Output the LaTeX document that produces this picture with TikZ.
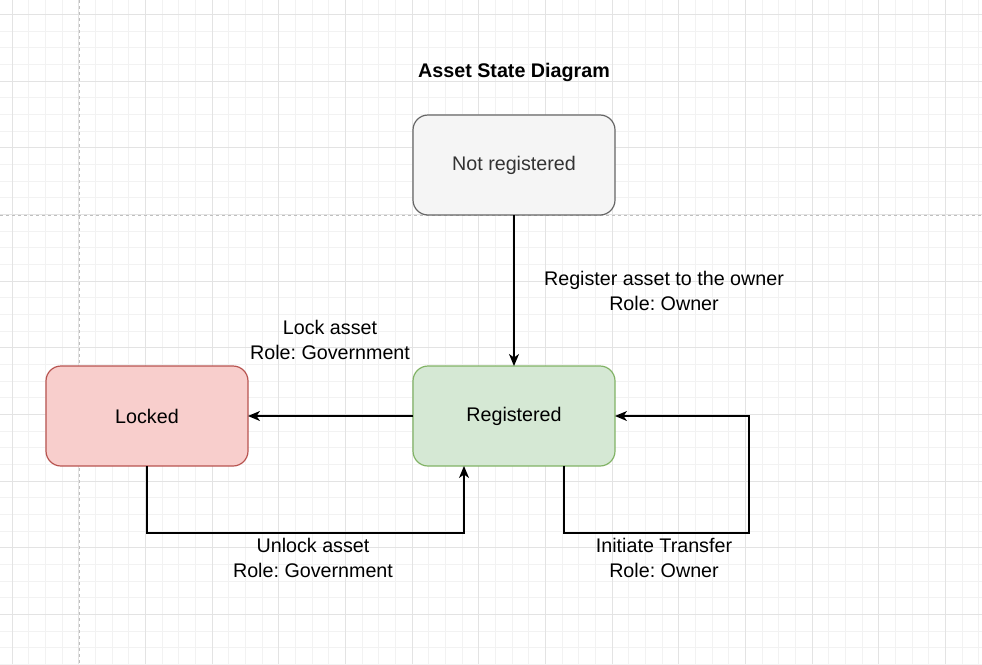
\documentclass[tikz,border=0pt]{standalone}
\usepackage{fontspec}
\setmainfont{Liberation Sans}
\usetikzlibrary{positioning}
\usetikzlibrary{arrows.meta}
\frenchspacing

\definecolor{greyfill}{HTML}{F5F5F5}
\definecolor{greyline}{HTML}{666666}
\definecolor{greytext}{HTML}{333333}
\definecolor{greenfill}{HTML}{D5E8D4}
\definecolor{greenline}{HTML}{82B366}
\definecolor{redfill}{HTML}{F8CECC}
\definecolor{redline}{HTML}{B85450}

\begin{document}
\begin{tikzpicture}[
        x = 1pt, y = -1pt,
        state/.style = {
            draw,
            rounded corners = 15pt,
            minimum width = 202pt,
            minimum height = 100pt,
            line width = 1.2pt,
            inner sep = 0pt,
            outer sep = 0pt,
            font = \fontsize{19.7}{25.5}\selectfont
        },
        lbl/.style = {
            align = center,
            font = \fontsize{19.7}{25.5}\selectfont
        },
        trans/.style = {
            line width = 1.3pt,
            -{Stealth[length=12pt, width=10pt, inset=3.5pt]}
        },
        minorline/.style = {line width = 0.6pt, black!5},
        majorline/.style = {line width = 0.8pt, black!11}
        ]
        \useasboundingbox (0,0) rectangle (982,664);
        \fill[white] (0,0) rectangle (982,664);
%
        \foreach \i in {-1,...,58}
            \draw[minorline] ({12+16.667*\i},0) -- ({12+16.667*\i},664);
        \foreach \i in {-1,...,39}
            \draw[minorline] (0,{14.3+16.667*\i}) -- (982,{14.3+16.667*\i});
        \foreach \i in {0,...,14}
            \draw[majorline] ({12+66.667*\i},0) -- ({12+66.667*\i},664);
        \foreach \i in {0,...,9}
            \draw[majorline] (0,{14.3+66.667*\i}) -- (982,{14.3+66.667*\i});
        \draw[line width = 0.9pt, black!25, dashed] (79,0) -- (79,664);
        \draw[line width = 0.9pt, black!25, dashed] (0,215) -- (982,215);
%
        \node[font=\bfseries\fontsize{19.7}{25.5}\selectfont] (title) at (514,72) {Asset State Diagram};
%
        \node[state, fill=greyfill, draw=greyline, text=greytext] (notreg) at (514,165) {Not registered};
        \node[state, fill=greenfill, draw=greenline] (reg) at (514,416) {Registered};
        \node[state, fill=redfill, draw=redline] (locked) [left=165pt of reg] {Locked};
%
        \draw[trans] (notreg) -- (reg);
        \draw[trans] (reg) -- (locked);
        \draw[trans] (locked.south) -- ++(0,67) -| ([xshift=-50pt]reg.south);
        \draw[trans] ([xshift=50pt]reg.south) -- ++(0,67) -| ([xshift=134pt]reg.east) -- (reg.east);
%
        \node[lbl] (regnote) at (664,291) {Register asset to the owner\\Role: Owner};
        \node[lbl] (locknote) at (330,340) {Lock asset\\Role: Government};
        \node[lbl] (unlocknote) at (313,558) {Unlock asset\\Role: Government};
        \node[lbl] (transnote) at (664,558) {Initiate Transfer\\Role: Owner};
%
\end{tikzpicture}
\end{document}
